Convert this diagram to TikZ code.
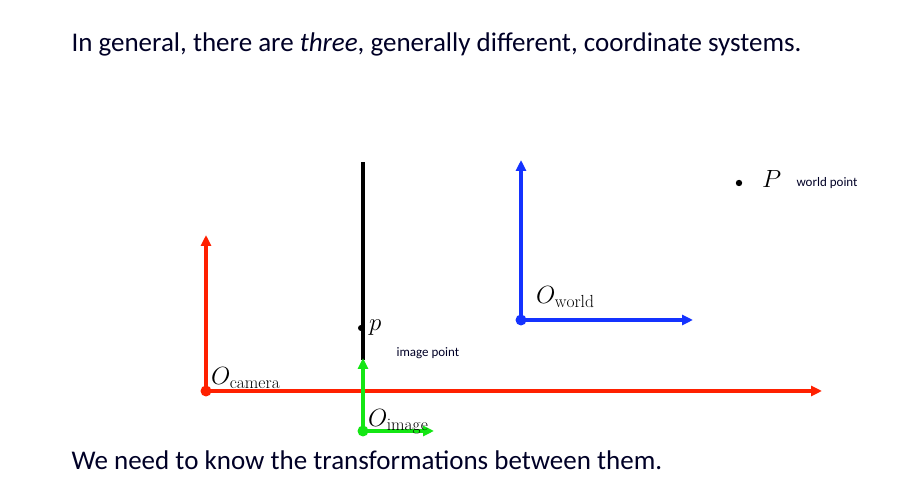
\documentclass[tikz,border=0pt]{standalone}
\usepackage{amsmath}
\usepackage{fontspec}
\newfontfamily\calibri{Carlito}
\usetikzlibrary{arrows.meta, positioning}
\definecolor{camred}{RGB}{255,32,0}
\definecolor{imggreen}{RGB}{20,230,20}
\definecolor{wldblue}{RGB}{20,50,255}
\tikzset{
  axis/.style={line width=3.2pt, -{Triangle[length=11pt,width=10pt]}},
  caption/.style={font=\calibri\fontsize{27}{32}\selectfont, anchor=base west, text=black!85!blue},
  tag/.style={font=\calibri\fontsize{13}{15}\selectfont, anchor=base west, text=black!85!blue},
  lbl/.style={font=\fontsize{25}{30}\selectfont, anchor=base west, inner sep=0pt}
}
\begin{document}
\begin{tikzpicture}[x=1pt,y=1pt,line cap=butt]
  \useasboundingbox (0,0) rectangle (916,497);

  % --- Testi ---
  \node[caption] (top) at (68,445) {In general, there are \textit{three}, generally different, coordinate systems.};
  \node[caption] (bottom) at (68,27) {We need to know the transformations between them.};

  % --- Piano immagine ---
  \coordinate (pltop) at (363,335);
  \coordinate (plbot) at (363,137);
  \draw[line width=3.8pt] (plbot) -- (pltop);

  % --- Camera ---
  \coordinate (Oc) at (206,106);
  \coordinate (cy) at (206,262);
  \coordinate (cx) at (822,106);
  \draw[axis,camred] (Oc) -- (cy);
  \draw[axis,camred] (Oc) -- (cx);
  \fill[camred] (Oc) circle (5.5pt);
  \node[lbl] (lc) at (211,112) {$O_{\mathrm{camera}}$};

  % --- Immagine ---
  \coordinate (Oi) at (363,66);
  \coordinate (iy) at (363,139);
  \coordinate (ix) at (434,66);
  \draw[axis,imggreen] (Oi) -- (iy);
  \draw[axis,imggreen] (Oi) -- (ix);
  \fill[imggreen] (Oi) circle (5.5pt);
  \node[lbl] (li) at (368,70) {$O_{\mathrm{image}}$};

  % --- Punto immagine p ---
  \fill (361,169) circle (3pt) coordinate (p);
  \node[lbl, right=8pt of p, anchor=west] (lp) {$p$};
  \node[tag] (tp) at (393,140) {image point};

  % --- Mondo ---
  \coordinate (Ow) at (521,177);
  \coordinate (wy) at (521,337);
  \coordinate (wx) at (693,177);
  \draw[axis,wldblue] (Ow) -- (wy);
  \draw[axis,wldblue] (Ow) -- (wx);
  \fill[wldblue] (Ow) circle (5.5pt);
  \node[lbl] (lw) at (536,193) {$O_{\mathrm{world}}$};

  % --- Punto mondo P ---
  \fill (739,314) circle (3.2pt) coordinate (P);
  \node[lbl] (lP) at (762,309) {$P$};
  \node[tag] (tP) at (793,310) {world point};
\end{tikzpicture}
\end{document}
